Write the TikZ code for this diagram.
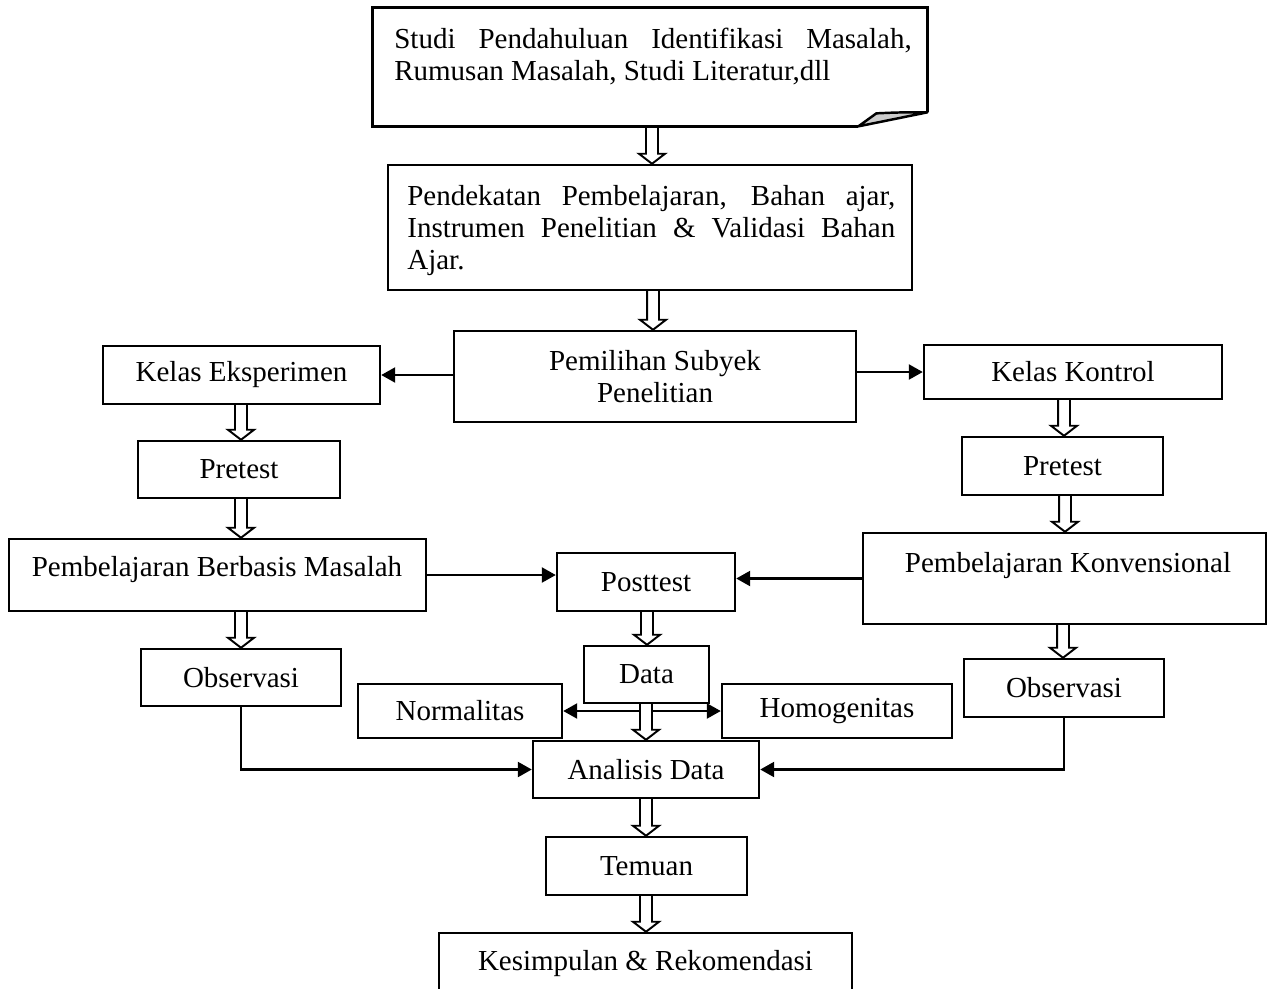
\documentclass[tikz,border=0pt]{standalone}
\usepackage{fontspec}
\setmainfont{Liberation Serif}
\usetikzlibrary{arrows.meta,calc}
\newcommand\dfont{\fontsize{16.5pt}{18.2pt}\selectfont}
\tikzset{
 box/.style={draw, line width=1.4pt, inner sep=0pt, align=center, font=\dfont},
 txt/.style={inner sep=0pt, font=\dfont},
 arr/.style={line width=1.4pt, -{Triangle[length=0.28cm,width=0.3cm]}},
 hollow/.style={draw, line width=1.1pt, line join=miter},
}
\newcommand\bx[6]{\node[box, minimum width={(#4-#2)*0.02cm}, minimum height={(#5-#3)*0.02cm}] (#1) at ({(#2+#4)/2},{(#3+#5)/2}) {#6};}
\newcommand\dbl[3]{\draw[hollow] let \p1=(#3,0), \p2=(#1.south), \p3=(#2.north) in
  (\x1-3.4pt,\y2) -- (\x1-3.4pt,\y3+5.7pt) -- (\x1-7.4pt,\y3+5.7pt) -- (\x1,\y3)
  -- (\x1+7.4pt,\y3+5.7pt) -- (\x1+3.4pt,\y3+5.7pt) -- (\x1+3.4pt,\y2);}
\begin{document}
\begin{tikzpicture}[x=0.02cm,y=-0.02cm]
\useasboundingbox (0,0) rectangle (1268,988);
\clip (0,0) rectangle (1268,988);
\fill[white] (0,0) rectangle (1268,988);
% top box with folded corner
\node[minimum width={554*0.02cm}, minimum height={118*0.02cm}, inner sep=0pt] (top) at (650,67) {};
\draw[line width=1.4pt, line join=miter] ($(top.south east)+(0,-14)$) coordinate (fr) -- (top.north east) -- (top.north west) -- (top.south west) -- ($(top.south east)+(-69,0)$) coordinate (fb);
\draw[line width=1.4pt, fill=black!20, line join=round] (fb) -- ($(fb)+(18,-13)$) .. controls ($(fb)+(40,-14)$) .. (fr) -- cycle;
\node[txt, anchor=north west, align=left] (toptext) at (394,28) {\makebox[10.35cm][s]{Studi Pendahuluan Identifikasi Masalah,}\\Rumusan Masalah, Studi Literatur,dll};
% second box
\bx{pend}{388}{165}{912}{290}{}
\node[txt, anchor=north west, align=left] (pendt) at (407,185) {\makebox[9.76cm][s]{Pendekatan Pembelajaran, Bahan ajar,}\\\makebox[9.76cm][s]{Instrumen Penelitian \& Validasi Bahan}\\Ajar.};
\bx{pilih}{454}{331}{856}{422}{Pemilihan Subyek\\Penelitian}
\bx{eks}{103}{346}{380}{404}{Kelas Eksperimen}
\bx{kon}{924}{345}{1222}{399}{Kelas Kontrol}
\bx{pre1}{138}{441}{340}{498}{Pretest}
\bx{pre2}{962}{437}{1163}{495}{Pretest}
\bx{pbm}{9}{539}{426}{611}{}
\node[txt, anchor=base] (pbmt) at (217,576) {Pembelajaran Berbasis Masalah};
\bx{post}{557}{553}{735}{611}{Posttest}
\bx{konv}{863}{533}{1266}{624}{}
\node[txt, anchor=base] (konvt) at (1068,572) {Pembelajaran Konvensional};
\bx{obs1}{141}{649}{341}{706}{Observasi}
\bx{data}{584}{646}{709}{703}{Data}
\bx{norm}{358}{684}{562}{738}{Normalitas}
\bx{homo}{722}{684}{952}{738}{Homogenitas}
\bx{obs2}{964}{659}{1164}{717}{Observasi}
\bx{anal}{533}{741}{759}{798}{Analisis Data}
\bx{tem}{546}{837}{747}{895}{Temuan}
\bx{kes}{439}{933}{852}{995}{Kesimpulan \& Rekomendasi}
% hollow arrows
\dbl{top}{pend}{652}
\dbl{pend}{pilih}{653}
\dbl{eks}{pre1}{241}
\dbl{pre1}{pbm}{241}
\dbl{pbm}{obs1}{241}
\dbl{kon}{pre2}{1064}
\dbl{pre2}{konv}{1065}
\dbl{konv}{obs2}{1063}
\dbl{post}{data}{647}
\dbl{data}{anal}{646}
\dbl{anal}{tem}{646}
\dbl{tem}{kes}{646}
% single arrows
\draw[arr] (pilih.west |- eks.east) -- (eks.east);
\draw[arr] (pilih.east |- kon.west) -- (kon.west);
\draw[arr] (pbm.east) -- (post.west |- pbm.east);
\draw[arr] (konv.west) -- (post.east |- konv.west);
\draw[arr] (obs1.south) |- (anal.west);
\draw[arr] (obs2.south) |- (anal.east);
\coordinate (dL) at (640,0);
\coordinate (dR) at (652,0);
\draw[arr] (dL |- norm.east) -- (norm.east);
\draw[arr] (dR |- homo.west) -- (homo.west);
\end{tikzpicture}
\end{document}
